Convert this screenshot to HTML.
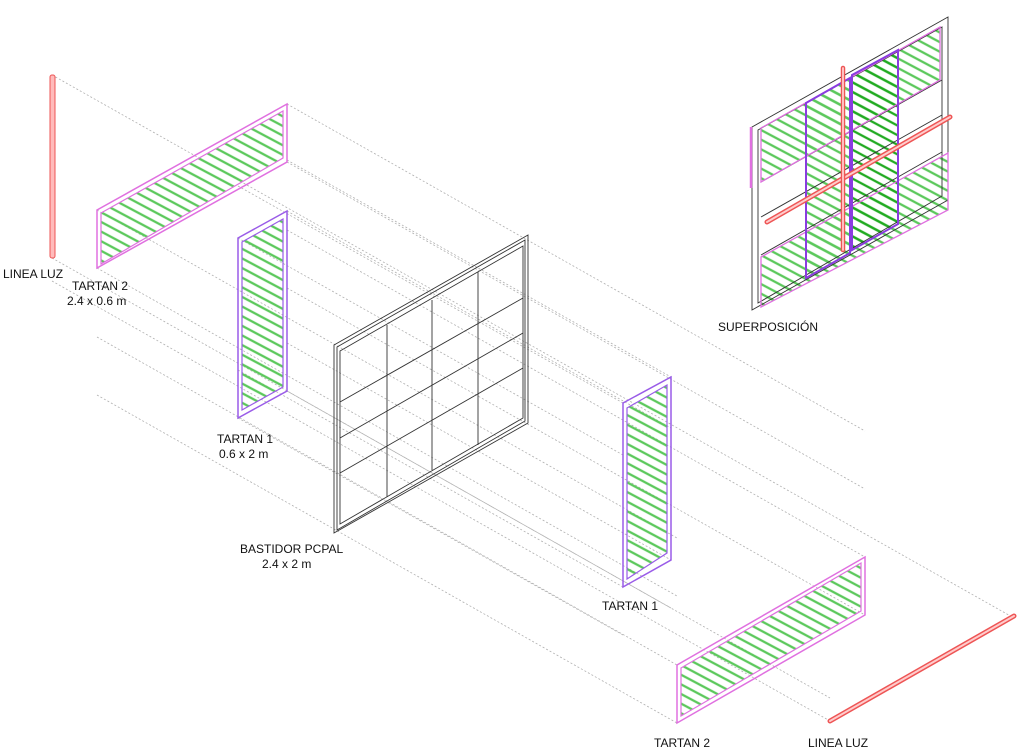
<!DOCTYPE html>
<html><head><meta charset="utf-8"><style>
html,body{margin:0;padding:0;background:#fff;}
svg{display:block;}
text{font-family:"Liberation Sans",sans-serif;font-size:12px;fill:#111;}
</style></head><body>
<svg width="1024" height="753" viewBox="0 0 1024 753" xmlns="http://www.w3.org/2000/svg">
<defs>
<pattern id="h" patternUnits="userSpaceOnUse" width="12" height="8.5" patternTransform="rotate(28)">
<line x1="0" y1="4" x2="12" y2="4" stroke="#5cc85c" stroke-width="2.3"/>
</pattern>
<pattern id="h2" patternUnits="userSpaceOnUse" width="12" height="8.5" patternTransform="rotate(28)">
<line x1="0" y1="4" x2="12" y2="4" stroke="#22aa22" stroke-width="2.3"/>
</pattern>
</defs>

<!-- dotted projection lines (parallel) -->
<g stroke="#b0b0b0" stroke-width="0.8" stroke-dasharray="2,2" fill="none">
<line x1="52" y1="75" x2="1014" y2="618"/>
<line x1="52" y1="258" x2="830" y2="698"/>
<line x1="52" y1="281" x2="830" y2="721"/>
<line x1="97" y1="210" x2="677" y2="538"/>
<line x1="97" y1="268" x2="677" y2="596"/>
<line x1="287" y1="104" x2="865" y2="431"/>
<line x1="287" y1="162" x2="865" y2="489"/>
<line x1="97" y1="337" x2="677" y2="665"/>
<line x1="97" y1="395" x2="677" y2="723"/>
<line x1="287" y1="230" x2="865" y2="557"/>
<line x1="287" y1="288" x2="865" y2="615"/>
<line x1="238" y1="238" x2="623" y2="455"/>
<line x1="238" y1="418" x2="623" y2="635"/>
<line x1="287" y1="211" x2="671" y2="428"/>
<line x1="287" y1="391" x2="671" y2="608"/>
<line x1="238" y1="186" x2="623" y2="403"/>
<line x1="238" y1="370" x2="623" y2="587"/>
<line x1="287" y1="160" x2="671" y2="377"/>
<line x1="287" y1="343" x2="671" y2="560"/>
</g>

<!-- Linea luz left -->
<rect x="50" y="75" width="5" height="183" rx="2" fill="#fbb" stroke="#e55" stroke-width="1"/>

<!-- Tartan 2 left -->
<polygon points="101,213 283,111 283,158 101,264" fill="url(#h)"/>
<polygon points="97,210 287,104 287,162 97,268" fill="none" stroke="#e070e0" stroke-width="1.5"/>
<polygon points="101,213 283,111 283,158 101,264" fill="none" stroke="#e070e0" stroke-width="1.2"/>

<!-- Tartan 1 left -->
<polygon points="242,242 283,219 283,387 242,410" fill="url(#h)"/>
<polygon points="238,238 287,211 287,391 238,418" fill="none" stroke="#9a5ce8" stroke-width="1.5"/>
<polygon points="242,242 283,219 283,387 242,410" fill="none" stroke="#9a5ce8" stroke-width="1.2"/>

<!-- Bastidor -->
<g fill="none" stroke="#333" stroke-width="0.9">
<polygon points="334,345 528,235 528,423 334,533"/>
<polygon points="337,347 525,240 525,421 337,530"/>
<polygon points="340,351 523,246 523,418 340,524"/>
<line x1="387" y1="325" x2="387" y2="497"/>
<line x1="432" y1="300" x2="432" y2="470"/>
<line x1="478" y1="272" x2="478" y2="445"/>
<line x1="340" y1="402" x2="523" y2="298"/>
<line x1="340" y1="438" x2="523" y2="333"/>
<line x1="340" y1="473" x2="523" y2="368"/>
</g>

<!-- Tartan 1 right -->
<polygon points="627,408 667,385 667,553 627,579" fill="url(#h)"/>
<polygon points="623,403 671,377 671,560 623,587" fill="none" stroke="#9a5ce8" stroke-width="1.5"/>
<polygon points="627,408 667,385 667,553 627,579" fill="none" stroke="#9a5ce8" stroke-width="1.2"/>

<!-- Tartan 2 right -->
<polygon points="681,668 861,563 861,611 681,716" fill="url(#h)"/>
<polygon points="677,665 865,557 865,615 677,723" fill="none" stroke="#e070e0" stroke-width="1.5"/>
<polygon points="681,668 861,563 861,611 681,716" fill="none" stroke="#e070e0" stroke-width="1.2"/>

<!-- Linea luz right -->
<line x1="830" y1="721" x2="1014" y2="616" stroke="#e55" stroke-width="5" stroke-linecap="round"/>
<line x1="830" y1="721" x2="1014" y2="616" stroke="#fcc" stroke-width="2" stroke-linecap="round"/>

<!-- Superposicion -->
<polygon points="761,128 940,27 940,80 761,182" fill="url(#h)"/>
<polygon points="761,257 948,153 948,210 761,307" fill="url(#h)"/>
<polygon points="806,103 850,78 850,253 806,278" fill="url(#h)"/>
<polygon points="852,75 898,50 898,224 852,250" fill="url(#h2)"/>
<g fill="none" stroke="#333" stroke-width="0.9">
<polygon points="752,127 948,17 948,200 752,310"/>
<polygon points="758,130 942,27 942,196 758,303"/>
<line x1="761" y1="182" x2="942" y2="80"/>
<line x1="761" y1="217" x2="942" y2="115"/>
<line x1="761" y1="255" x2="942" y2="152"/>
</g>
<g fill="none" stroke="#e070e0" stroke-width="1.3">
<polygon points="761,128 940,27 940,80 761,182"/>
<polygon points="761,257 948,153 948,210 761,307"/>
<line x1="751" y1="127" x2="751" y2="188" stroke-width="2.5"/>
</g>
<g fill="none" stroke="#8a3ce0" stroke-width="2">
<polygon points="806,103 850,78 850,253 806,278"/>
<polygon points="852,75 898,50 898,224 852,250"/>
</g>
<line x1="767" y1="222" x2="950" y2="117" stroke="#e55" stroke-width="5" stroke-linecap="round"/>
<line x1="767" y1="222" x2="950" y2="117" stroke="#fcc" stroke-width="2" stroke-linecap="round"/>
<line x1="843" y1="68" x2="843" y2="250" stroke="#e55" stroke-width="4.5" stroke-linecap="round"/>
<line x1="843" y1="68" x2="843" y2="250" stroke="#fcc" stroke-width="1.8" stroke-linecap="round"/>

<!-- labels -->
<text x="3" y="278">LINEA LUZ</text>
<text x="72" y="290">TARTAN 2</text>
<text x="67" y="305">2.4 x 0.6 m</text>
<text x="217" y="443">TARTAN 1</text>
<text x="219" y="458">0.6 x 2 m</text>
<text x="240" y="553">BASTIDOR PCPAL</text>
<text x="262" y="568">2.4 x 2 m</text>
<text x="602" y="610">TARTAN 1</text>
<text x="654" y="747">TARTAN 2</text>
<text x="808" y="747">LINEA LUZ</text>
<text x="718" y="331">SUPERPOSICIÓN</text>
</svg>
</body></html>
